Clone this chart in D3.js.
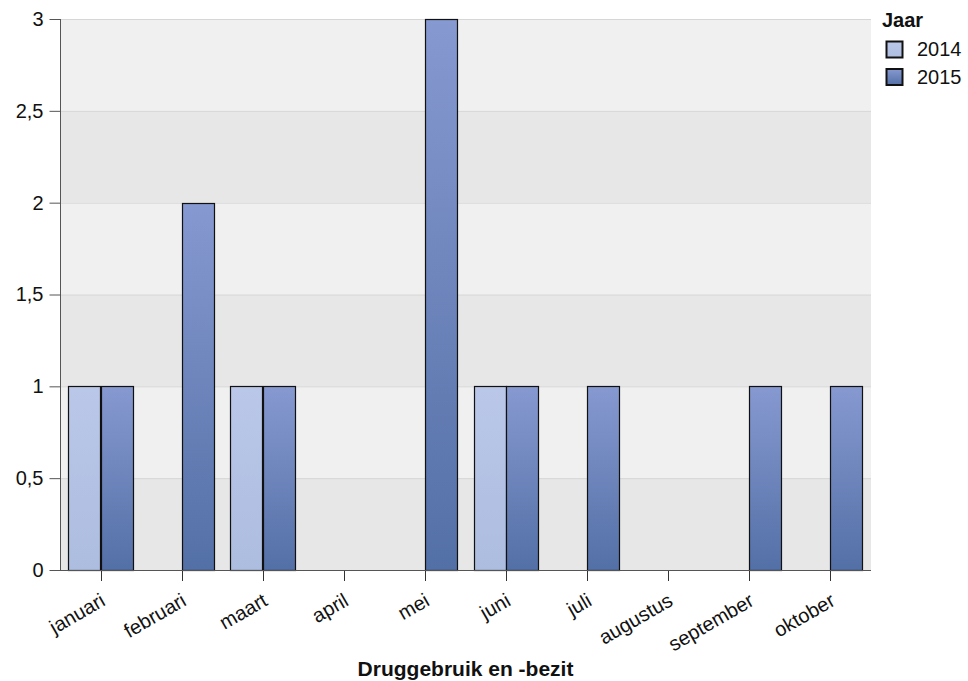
<!DOCTYPE html>
<html><head><meta charset="utf-8">
<script src="https://cdn.jsdelivr.net/npm/d3@7"></script>
<style>body{margin:0;background:#fff;font-family:"Liberation Sans",Arial,sans-serif;}</style>
</head><body><svg id="c" width="968" height="681"></svg>
<script>
const categories = ["januari","februari","maart","april","mei","juni","juli","augustus","september","oktober"];
const seriesNames = ["2014","2015"];
const values2014 = [1,0,1,0,0,1,0,0,0,0];
const values2015 = [1,2,1,0,3,1,1,0,1,1];
const yTicks = [0,0.5,1,1.5,2,2.5,3];
const xTitle = "Druggebruik en -bezit";
const legendTitle = "Jaar";

const FONT = "Liberation Sans, Arial, sans-serif";
const svg = d3.select("#c");
const m = {l:60, r:871, t:19, b:570};
const x = d3.scaleBand().domain(categories).range([m.l, m.r]).paddingInner(0.2).paddingOuter(0.1);
const xc = d3.scaleBand().domain(categories).range([m.l, m.r]);
const y = d3.scaleLinear().domain([0,3]).range([m.b, m.t]);
const xs = d3.scaleBand().domain(seriesNames).range([0, x.bandwidth()]);
const fmt = v => String(v).replace(".", ",");

const defs = svg.append("defs");
const grads = [["g2014","#bac7e8","#adbde0"],["g2015","#8699d0","#5370a6"]];
grads.forEach(([id,c1,c2])=>{
  const g = defs.append("linearGradient").attr("id",id).attr("x1",0).attr("y1",0).attr("x2",0).attr("y2",1);
  g.append("stop").attr("offset","0%").attr("stop-color",c1);
  g.append("stop").attr("offset","100%").attr("stop-color",c2);
});

// bands
for (let i=0;i<yTicks.length-1;i++){
  svg.append("rect").attr("x",m.l).attr("width",m.r-m.l)
    .attr("y",y(yTicks[i+1])).attr("height",y(yTicks[i])-y(yTicks[i+1]))
    .attr("fill", i%2===0 ? "#e7e7e7" : "#f0f0f0");
}
// gridlines
svg.append("g").selectAll("line").data(yTicks.slice(1)).join("line")
  .attr("x1",m.l).attr("x2",m.r).attr("y1",d=>y(d)+0.5).attr("y2",d=>y(d)+0.5)
  .attr("stroke","#d6d6d6").attr("stroke-width",1);

// x ticks
const tickX = d => Math.round(xc(d)+xc.bandwidth()/2)+0.5;
svg.append("g").selectAll("line").data(categories).join("line")
  .attr("x1",tickX).attr("x2",tickX)
  .attr("y1",m.b).attr("y2",m.b+11).attr("stroke","#333");

// bars
const data = [];
categories.forEach((c,i)=>{
  data.push({c, s:"2014", v:values2014[i]});
  data.push({c, s:"2015", v:values2015[i]});
});
svg.append("g").selectAll("rect").data(data.filter(d=>d.v>0)).join("rect")
  .attr("x",d=>Math.round(x(d.c)+xs(d.s))+0.5)
  .attr("width",Math.round(xs.bandwidth()))
  .attr("y",d=>Math.round(y(d.v))+0.5)
  .attr("height",d=>Math.round(y(0))-Math.round(y(d.v)))
  .attr("fill",d=>`url(#g${d.s})`)
  .attr("stroke","#111").attr("stroke-width",1.2);

// y axis
const ya = svg.append("g").attr("transform",`translate(${m.l+0.5},0)`)
  .call(d3.axisLeft(y).tickValues(yTicks).tickFormat(fmt).tickSize(11).tickPadding(6));
ya.select(".domain").attr("stroke","#555").attr("d",`M0,${m.t}V${m.b}`);
ya.selectAll(".tick line").attr("stroke","#555");
ya.selectAll("text").attr("font-size",20).attr("fill","#111").attr("font-family",FONT);

// x axis
const xa = svg.append("g").attr("transform",`translate(0,${m.b+0.5})`)
  .call(d3.axisBottom(xc).tickSize(0).tickPadding(0));
xa.select(".domain").attr("stroke","#555").attr("d",`M${m.l},0H${m.r}`);
xa.selectAll(".tick text").attr("font-size",20).attr("fill","#111")
  .attr("font-family",FONT)
  .attr("text-anchor","end").attr("x",0).attr("y",0).attr("dy",0)
  .attr("transform","translate(6,34) rotate(-30)");

svg.append("text").attr("x",(m.l+m.r)/2).attr("y",676).attr("text-anchor","middle")
  .attr("font-family",FONT).attr("font-size",21).attr("font-weight","bold").attr("fill","#111").text(xTitle);

// legend
const lg = svg.append("g").attr("font-family",FONT);
lg.append("text").attr("x",882).attr("y",27).attr("font-size",20).attr("font-weight","bold").attr("fill","#111").text(legendTitle);
seriesNames.forEach((s,i)=>{
  lg.append("rect").attr("x",886.5).attr("y",41.5+i*27.5).attr("width",16).attr("height",16)
    .attr("fill",`url(#g${s})`).attr("stroke","#111").attr("stroke-width",2);
  lg.append("text").attr("x",917).attr("y",56+i*27.5).attr("font-size",20).attr("fill","#111").text(s);
});
</script></body></html>
